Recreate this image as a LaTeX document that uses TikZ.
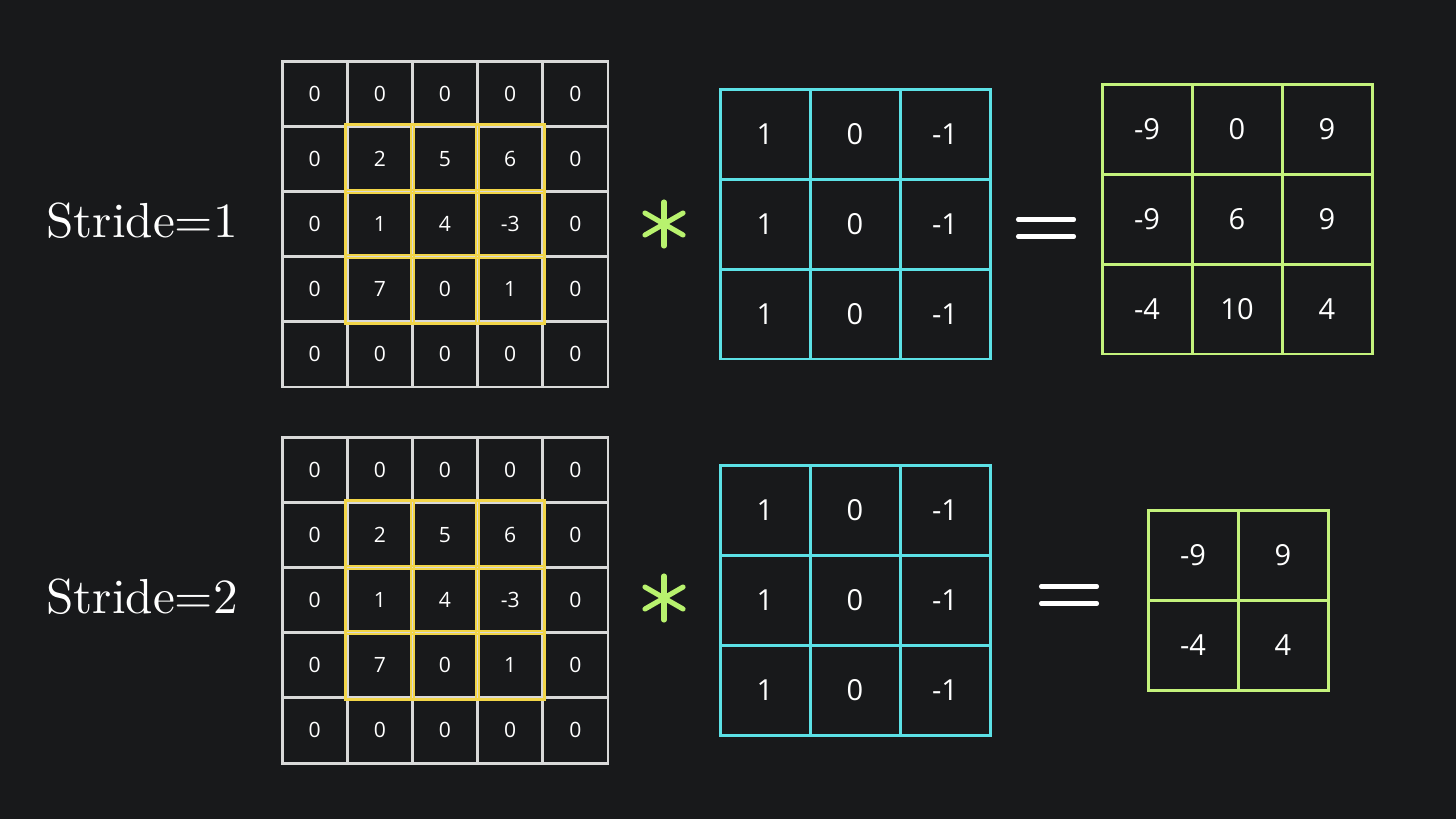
\documentclass[tikz,border=0pt]{standalone}
\usepackage{xcolor}
\usepackage{fontspec}
\usepackage{tikz}
\usetikzlibrary{positioning}
\newfontfamily\cellfont{Open Sans}
\newfontfamily\stridefont{lmroman10-regular.otf}
\definecolor{bg}{HTML}{18191B}
\definecolor{gridline}{HTML}{D9D9D9}
\definecolor{window}{HTML}{F2D548}
\definecolor{kernel}{HTML}{5CE1E6}
\definecolor{result}{HTML}{C4F27C}
\definecolor{starc}{HTML}{B8F26E}

\begin{document}
\begin{tikzpicture}[
  x=0.02cm, y=-0.02cm,
  incell/.style={rectangle, draw=gridline, line width=1.7pt, inner sep=0pt,
                 minimum size=1.304cm, text=white, font=\cellfont\fontsize{12}{14}\selectfont},
  kcell/.style={rectangle, draw=kernel, line width=1.7pt, inner sep=0pt,
                minimum size=1.8cm, text=white, font=\cellfont\fontsize{16.5}{18}\selectfont},
  outcell/.style={kcell, draw=result},
  win/.style={draw=window, line width=1.4pt},
  asterisk/.style={starc, line width=2.9pt, line cap=round},
  eqline/.style={white, line width=2.3pt, line cap=round},
  stride/.style={text=white, anchor=base west, inner sep=0pt, font=\stridefont\fontsize{28}{30}\selectfont}
]
\fill[bg] (0,0) rectangle (1456,819);
\useasboundingbox (0,0) rectangle (1456,819);

% labels
\node[stride] (s1) at (46,237) {Stride=1};
\node[stride] (s2) at (46,613) {Stride=2};

% padded inputs
\foreach \g/\top in {a/61, b/437} {
  \foreach \row [count=\r from 0] in {{0,0,0,0,0},{0,2,5,6,0},{0,1,4,-3,0},{0,7,0,1,0},{0,0,0,0,0}} {
    \foreach \v [count=\c from 0] in \row {
      \node[incell] (\g-\r-\c) at ({282+65.2*(\c+0.5)}, {\top+65.2*(\r+0.5)}) {\v};
    }
  }
}
\foreach \g in {a,b}
  \foreach \r in {1,2,3}
    \foreach \c in {1,2,3}
      \draw[win] (\g-\r-\c.north west) rectangle (\g-\r-\c.south east);

% kernels
\foreach \g/\top in {ka/89, kb/465} {
  \foreach \r in {0,1,2} {
    \foreach \v [count=\c from 0] in {1,0,-1} {
      \node[kcell] (\g-\r-\c) at ({720+90*(\c+0.5)}, {\top+90*(\r+0.5)}) {\v};
    }
  }
}

% outputs
\foreach \row [count=\r from 0] in {{-9,0,9},{-9,6,9},{-4,10,4}} {
  \foreach \v [count=\c from 0] in \row {
    \node[outcell] (oa-\r-\c) at ({1102+90*(\c+0.5)}, {84+90*(\r+0.5)}) {\v};
  }
}
\foreach \row [count=\r from 0] in {{-9,9},{-4,4}} {
  \foreach \v [count=\c from 0] in \row {
    \node[outcell] (ob-\r-\c) at ({1148+90*(\c+0.5)}, {510+90*(\r+0.5)}) {\v};
  }
}

% operators
\coordinate (star1) at (664,224);
\coordinate (star2) at (664,598);
\foreach \s in {star1, star2}
  \foreach \a in {90,30,150}
    \draw[asterisk] (\s) ++(\a:22) -- ++(\a+180:44);

\coordinate (eq1) at (1046,228);
\coordinate (eq2) at (1069,595);
\foreach \e in {eq1, eq2} {
  \draw[eqline] (\e) ++(-28,-8.5) -- ++(56,0);
  \draw[eqline] (\e) ++(-28,8.5) -- ++(56,0);
}
\end{tikzpicture}
\end{document}
